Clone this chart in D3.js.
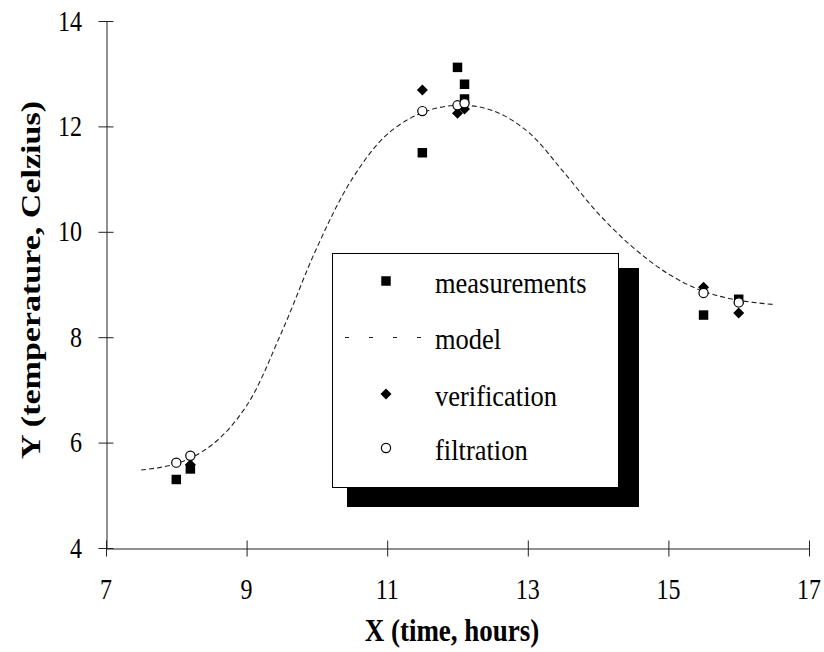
<!DOCTYPE html>
<html>
<head>
<meta charset="utf-8">
<script src="https://cdnjs.cloudflare.com/ajax/libs/d3/7.8.5/d3.min.js"></script>
<style>
  html, body { margin: 0; padding: 0; background: #fff; }
  svg { display: block; font-family: "Liberation Serif", "Times New Roman", serif; }
</style>
</head>
<body>
<div id="chart"></div>
<script>
// tick labels
var xTicks = [7, 9, 11, 13, 15, 17];
var yTicks = [4, 6, 8, 10, 12, 14];

// measurements (squares)
var measX = [8.0, 8.2, 11.5, 12.0, 12.1, 12.1, 15.5, 16.0];
var measY = [5.30, 5.50, 11.50, 13.12, 12.80, 12.52, 8.42, 8.72];

// verification (diamonds)
var verX = [8.2, 11.5, 12.0, 12.1, 15.5, 16.0];
var verY = [5.58, 12.69, 12.25, 12.33, 8.95, 8.46];

// filtration (open circles)
var filtX = [8.0, 8.2, 11.5, 12.0, 12.1, 15.5, 16.0];
var filtY = [5.62, 5.75, 12.29, 12.40, 12.44, 8.84, 8.66];

// model (dashed curve)
var modelX = [7.5, 8.0, 8.5, 9.0, 9.5, 10.0, 10.5, 11.0, 11.5, 12.0, 12.5, 13.0, 13.5, 14.0, 14.5, 15.0, 15.5, 16.0, 16.5];
var modelY = [5.48, 5.60, 5.95, 6.70, 8.10, 9.70, 11.00, 11.85, 12.26, 12.40, 12.30, 11.90, 11.15, 10.35, 9.70, 9.20, 8.87, 8.70, 8.62];

var legendNames = ['measurements', 'model', 'verification', 'filtration'];

var W = 824, H = 652;
var svg = d3.select('#chart').append('svg')
  .attr('width', W)
  .attr('height', H);

var x = d3.scaleLinear().domain([7, 17]).range([106, 809]);
var y = d3.scaleLinear().domain([4, 14]).range([548, 21]);

// text in the original is a bit taller than plain Times
var STRETCH = 1.2;

function zip(a, b) {
  return a.map(function (v, i) { return [v, b[i]]; });
}

function place(px, py, s, rot) {
  return 'translate(' + px + ',' + py + ') scale(1,' + s + ')' + (rot ? ' rotate(' + rot + ')' : '');
}

// ---- axes (ticks cross the axis line)
var yAxis = svg.append('g')
  .attr('transform', 'translate(106.5,0)')
  .call(d3.axisLeft(y).tickValues(yTicks).tickSizeInner(8).tickSizeOuter(0).tickFormat(''));
var xAxis = svg.append('g')
  .attr('transform', 'translate(0,548.5)')
  .call(d3.axisBottom(x).tickValues(xTicks).tickSizeInner(8).tickSizeOuter(0).tickFormat(''));

yAxis.selectAll('.tick line').attr('x1', 7);
xAxis.selectAll('.tick line').attr('y1', -8);
svg.selectAll('.domain, .tick line').attr('stroke', '#222').attr('stroke-width', 1);

// tick labels
svg.append('g').selectAll('text')
  .data(yTicks)
  .join('text')
  .attr('transform', function (d) { return place(82, y(d) + 8 * STRETCH, STRETCH); })
  .attr('text-anchor', 'end')
  .style('font-size', '24px')
  .text(function (d) { return d; });

svg.append('g').selectAll('text')
  .data(xTicks)
  .join('text')
  .attr('transform', function (d) { return place(x(d), 599, STRETCH); })
  .attr('text-anchor', 'middle')
  .style('font-size', '24px')
  .text(function (d) { return d; });

// axis titles
svg.append('text')
  .attr('transform', place(452, 641, STRETCH))
  .attr('text-anchor', 'middle')
  .style('font-size', '27px')
  .style('font-weight', 'bold')
  .text('X (time, hours)');

svg.append('text')
  .attr('transform', place(40, 280, 1.26, -90))
  .attr('text-anchor', 'middle')
  .style('font-size', '27px')
  .style('font-weight', 'bold')
  .text('Y (temperature, Celzius)');

// ---- marks
var plot = svg.append('g');

var squareSym = d3.symbol().type(d3.symbolSquare).size(90);
var diamondPath = 'M0,-5.5L5.5,0L0,5.5L-5.5,0Z';

plot.append('g').selectAll('path')
  .data(zip(measX, measY))
  .join('path')
  .attr('transform', function (d) { return 'translate(' + x(d[0]) + ',' + y(d[1]) + ')'; })
  .attr('d', squareSym)
  .attr('fill', '#000');

var line = d3.line()
  .x(function (d) { return x(d[0]); })
  .y(function (d) { return y(d[1]); })
  .curve(d3.curveCatmullRom.alpha(0.5));

plot.append('path')
  .datum(zip(modelX, modelY))
  .attr('d', line)
  .attr('fill', 'none')
  .attr('stroke', '#222')
  .attr('stroke-width', 1.1)
  .attr('stroke-dasharray', '5,3');

plot.append('g').selectAll('path')
  .data(zip(verX, verY))
  .join('path')
  .attr('transform', function (d) { return 'translate(' + x(d[0]) + ',' + y(d[1]) + ')'; })
  .attr('d', diamondPath)
  .attr('fill', '#000');

plot.append('g').selectAll('circle')
  .data(zip(filtX, filtY))
  .join('circle')
  .attr('cx', function (d) { return x(d[0]); })
  .attr('cy', function (d) { return y(d[1]); })
  .attr('r', 4.6)
  .attr('fill', '#fff')
  .attr('stroke', '#000')
  .attr('stroke-width', 1.2);

// ---- legend with drop shadow
var legend = svg.append('g');
legend.append('rect')
  .attr('x', 347).attr('y', 268)
  .attr('width', 292).attr('height', 239)
  .attr('fill', '#000');
legend.append('rect')
  .attr('x', 332.5).attr('y', 253.5)
  .attr('width', 286).attr('height', 234)
  .attr('fill', '#fff')
  .attr('stroke', '#000')
  .attr('stroke-width', 1);

var rowY = [281, 337, 394, 448];
var markX = 386;

legend.append('path')
  .attr('transform', 'translate(' + markX + ',' + rowY[0] + ')')
  .attr('d', squareSym)
  .attr('fill', '#000');
legend.append('line')
  .attr('x1', 345).attr('x2', 421)
  .attr('y1', rowY[1] + 0.5).attr('y2', rowY[1] + 0.5)
  .attr('stroke', '#222')
  .attr('stroke-dasharray', '4,20');
legend.append('path')
  .attr('transform', 'translate(' + markX + ',' + rowY[2] + ')')
  .attr('d', diamondPath)
  .attr('fill', '#000');
legend.append('circle')
  .attr('cx', markX).attr('cy', rowY[3])
  .attr('r', 4.6)
  .attr('fill', '#fff')
  .attr('stroke', '#000')
  .attr('stroke-width', 1.2);

legend.selectAll('text.lbl')
  .data(legendNames)
  .join('text')
  .attr('class', 'lbl')
  .attr('transform', function (d, i) { return place(435, rowY[i] + 12, 1.1); })
  .style('font-size', '26.5px')
  .text(function (d) { return d; });
</script>
</body>
</html>
